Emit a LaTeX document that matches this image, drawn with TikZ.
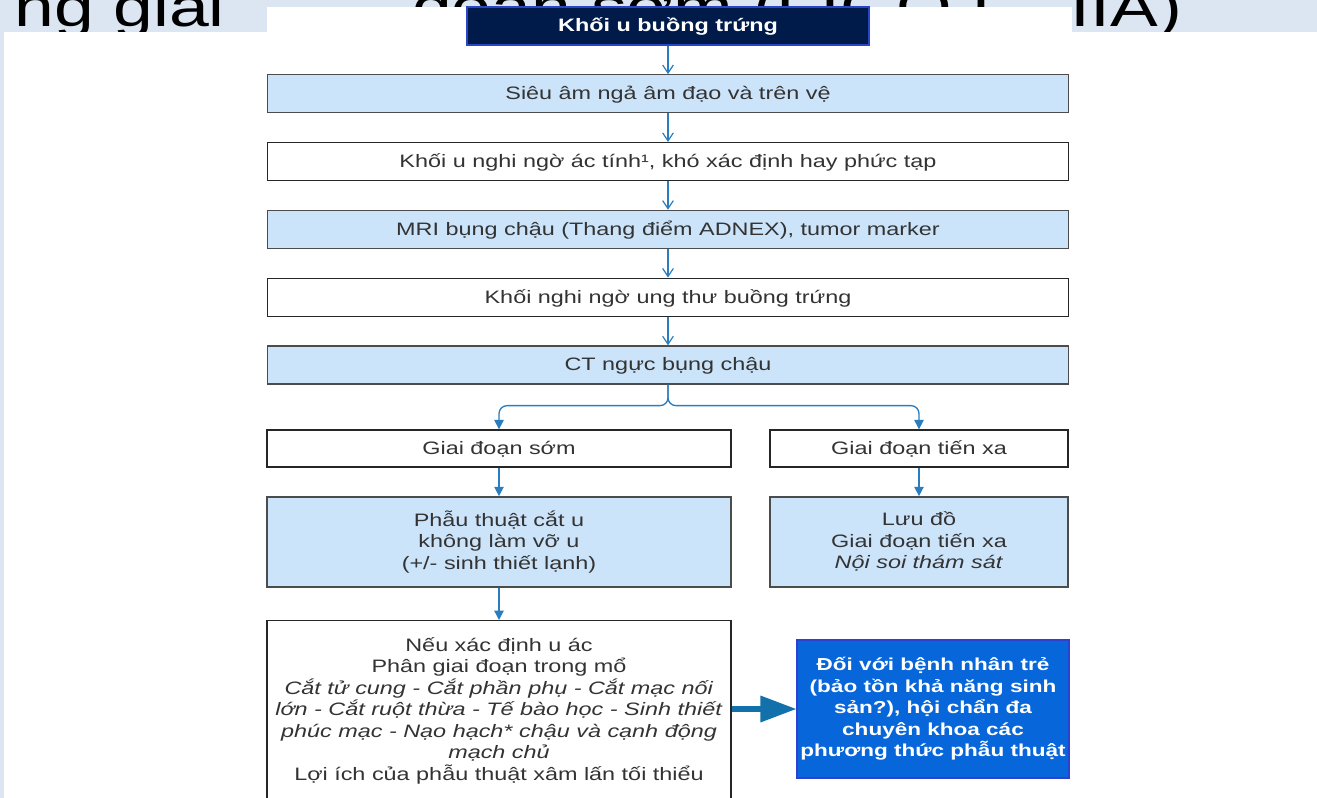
\documentclass[tikz,border=0pt]{standalone}
\usepackage{fontspec}
\setmainfont{Liberation Sans}[FakeStretch=1.3]
\newfontfamily\titlefont{Liberation Sans}[FakeStretch=1.3]
\usetikzlibrary{shapes, arrows.meta}
\definecolor{slidebg}{HTML}{DCE6F2}
\definecolor{boxfill}{HTML}{CCE4FA}
\definecolor{navy}{HTML}{001A4A}
\definecolor{navyline}{HTML}{2A44C8}
\definecolor{arrowblue}{HTML}{2A7DBE}
\definecolor{bigblue}{HTML}{1270AA}
\definecolor{notefill}{HTML}{0766DA}
\definecolor{noteline}{HTML}{2D40D0}
\definecolor{txt}{HTML}{333333}
\newcommand\boxfont{\fontsize{13.5}{16.1}\selectfont}
\tikzstyle{cell} = [rectangle, line width=1pt, text=txt, align=center, inner sep=1pt]
\tikzstyle{wbox} = [cell, draw=black!85, fill=white, minimum width=600.75pt,
    minimum height=28.5pt, text height=12pt, text depth=3pt]
\tikzstyle{bbox} = [wbox, fill=boxfill, draw=black!70]
\tikzstyle{wtall} = [cell, draw=black!85, fill=white, minimum width=348pt]
\tikzstyle{btall} = [wtall, fill=boxfill, draw=black!70]
\tikzstyle{topbox} = [rectangle, draw=navyline, fill=navy, text=white, font=\boxfont\bfseries,
    minimum width=301.5pt, minimum height=28.5pt, line width=0.8pt, text height=11.5pt, text depth=3pt]
\tikzstyle{notebox} = [rectangle, draw=noteline, fill=notefill, text=white,
    font=\fontsize{13}{16.1}\selectfont\bfseries,
    minimum width=204pt, minimum height=103.5pt, align=center, line width=0.8pt, inner sep=1pt]
\tikzstyle{line} = [draw=arrowblue, line width=0.9pt, -{Straight Barb[length=6pt,width=8pt]}]
\tikzstyle{fline} = [draw=arrowblue, line width=1pt, -{Triangle[length=7pt,width=7pt]}]
\tikzstyle{bigline} = [draw=bigblue, line width=4pt, -{Triangle[length=27pt,width=19pt]}]

\begin{document}
\begin{tikzpicture}[x=0.75pt, y=-0.75pt, node distance=50.85pt]
\tikzstyle{every node}=[font=\boxfont]
\useasboundingbox (0,0) rectangle (1317,798);
\clip (0,0) rectangle (1317,798);
% slide behind the chart
\fill[slidebg] (0,0) rectangle (1317,798);
\node[anchor=base west, inner sep=0, font=\titlefont\fontsize{41.25}{44}\selectfont] (title) at (14,27)
    {\makebox[876pt][s]{ng giai\hfill đoạn sớm (FIGO I – IIA)}};
\fill[white] (4,32) rectangle (1317,798);
\fill[white] (267,7) rectangle (1072,32);
% main column
\node[topbox] (tumor) at (668,26) {Khối u buồng trứng};
\node[bbox, below of=tumor] (echo) {Siêu âm ngả âm đạo và trên vệ};
\node[wbox, below of=echo] (suspect) {Khối u nghi ngờ ác tính¹, khó xác định hay phức tạp};
\node[bbox, below of=suspect] (mri) {MRI bụng chậu (Thang điểm ADNEX), tumor marker};
\node[wbox, below of=mri] (cancer) {Khối nghi ngờ ung thư buồng trứng};
\node[bbox, below of=cancer] (ct) {CT ngực bụng chậu};
% two branches
\node[wbox, minimum width=348pt, minimum height=27.75pt] (early) at (499,448.5) {Giai đoạn sớm};
\node[wbox, minimum width=223.5pt, minimum height=27.75pt] (late) at (919,448.5) {Giai đoạn tiến xa};
\node[btall, minimum height=67.5pt, below of=early, node distance=70pt] (surgery)
    {Phẫu thuật cắt u\\không làm vỡ u\\(+/- sinh thiết lạnh)};
\node[btall, minimum width=223.5pt, minimum height=67.5pt, below of=late, node distance=70pt] (chart)
    {Lưu đồ\\Giai đoạn tiến xa\\\textit{Nội soi thám sát}};
\node[wtall, anchor=north, minimum height=135pt] (staging) at (499,620)
    {Nếu xác định u ác\\Phân giai đoạn trong mổ\\
     \textit{Cắt tử cung - Cắt phần phụ - Cắt mạc nối}\\
     \textit{lớn - Cắt ruột thừa - Tế bào học - Sinh thiết}\\
     \textit{phúc mạc - Nạo hạch* chậu và cạnh động}\\
     \textit{mạch chủ}\\Lợi ích của phẫu thuật xâm lấn tối thiểu};
\node[notebox] (young) at (933,709)
    {Đối với bệnh nhân trẻ\\(bảo tồn khả năng sinh\\sản?), hội chẩn đa\\chuyên khoa các\\phương thức phẫu thuật};
% connectors
\path[line] (tumor) -- (echo);
\path[line] (echo) -- (suspect);
\path[line] (suspect) -- (mri);
\path[line] (mri) -- (cancer);
\path[line] (cancer) -- (ct);
\path[fline, rounded corners=6pt] (ct.south) -- ++(0,21) -| (early.north);
\path[fline, rounded corners=6pt] (ct.south) -- ++(0,21) -| (late.north);
\path[fline] (early) -- (surgery);
\path[fline] (late) -- (chart);
\path[fline] (surgery) -- (staging);
\path[bigline] (staging.east |- young.west) -- (young.west);
\end{tikzpicture}
\end{document}
